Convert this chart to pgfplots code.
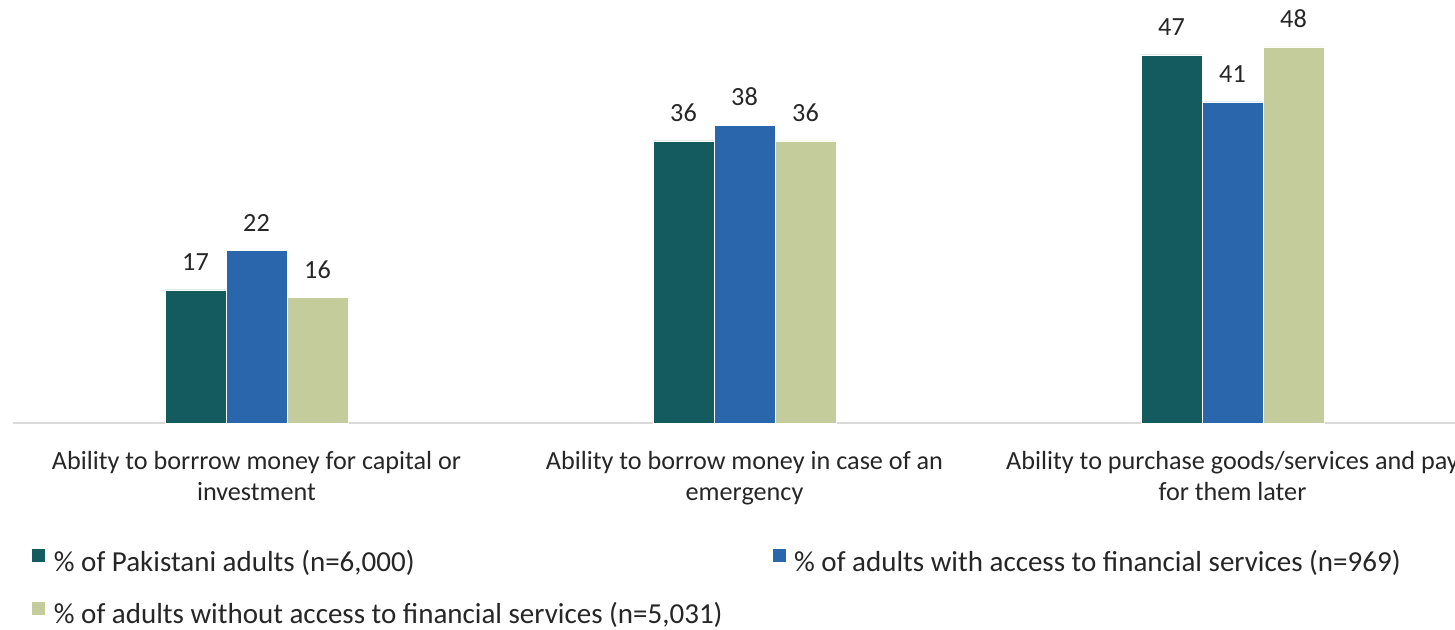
\documentclass[border=0pt]{standalone}
\usepackage{fontspec}
\setmainfont{Carlito}
\usepackage{pgfplots}
\pgfplotsset{compat=1.18}
\definecolor{cA}{HTML}{135B5F}
\definecolor{cB}{HTML}{2A66AB}
\definecolor{cC}{HTML}{C5CC9C}
\definecolor{txt}{HTML}{262626}
\begin{document}
\begin{tikzpicture}
\begin{axis}[
  at={(6.25pt,103.5pt)}, anchor=south west,
  scale only axis, width=732pt, height=211.5pt,
  xmin=-0.5, xmax=2.5, ymin=0, ymax=54,
  enlargelimits=false, clip=false,
  /pgf/number format/assume math mode=true,
  ybar=0pt, bar width=30.5pt,
  axis x line*=bottom, axis y line=none,
  x axis line style={-, draw=black!15, line width=1pt},
  ytick=\empty,
  xtick={0,1,2}, major tick length=0pt,
  xticklabels={{Ability to borrrow money for capital or\\investment},
               {Ability to borrow money in case of an\\emergency},
               {Ability to purchase goods/services and pay\\for them later}},
  xticklabel style={align=center, font=\fontsize{13.1}{15.5}\selectfont, text=txt, yshift=-10.5pt},
  nodes near coords,
  every node near coord/.append style={font=\fontsize{13.1}{15}\selectfont, text=txt, inner sep=0pt, yshift=9.5pt},
  legend columns=2,
  legend cell align=left,
  legend style={at={(0.0126,-0.2953)}, anchor=north west, draw=none, inner sep=0pt,
    font=\fontsize{14.5}{17}\selectfont, text=txt,
    nodes={inner sep=0pt, text height=10pt, text depth=3pt},
    /tikz/every odd column/.append style={column sep=4pt},
    /tikz/every even column/.append style={column sep=24.5pt},
    row sep=11.5pt},
  legend image code/.code={\fill[#1] (0pt,1pt) rectangle (7pt,8pt);},
]
\addplot[fill=cA, draw=white, line width=0.3pt] coordinates {(0,17) (1,36) (2,47)};
\addplot[fill=cB, draw=white, line width=0.3pt] coordinates {(0,22) (1,38) (2,41)};
\addplot[fill=cC, draw=white, line width=0.3pt] coordinates {(0,16) (1,36) (2,48)};
\legend{{\% of Pakistani adults (n=6,000)}, {\% of adults with access to financial services (n=969)}, {\% of adults without access to financial services (n=5,031)}}
\end{axis}
\pgfresetboundingbox
\path (0,0) rectangle (727.5pt,315pt);
\end{tikzpicture}
\end{document}
